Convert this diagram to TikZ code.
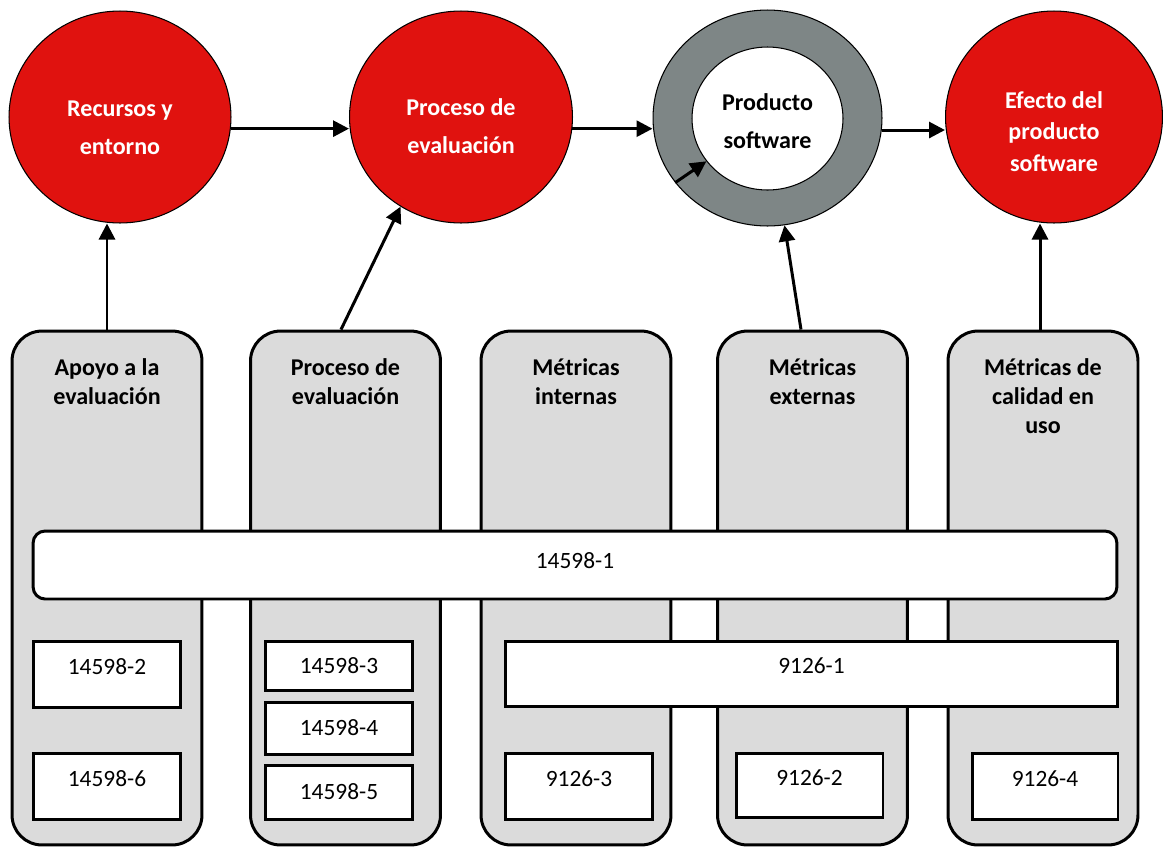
\documentclass[tikz,border=0pt]{standalone}
\usepackage{fontspec}
\setmainfont{Carlito}
\usetikzlibrary{arrows.meta, positioning, shapes.geometric}

\definecolor{rojo}{RGB}{224,18,15}
\definecolor{anillo}{RGB}{126,134,134}
\definecolor{gris}{RGB}{219,219,219}

\begin{document}
\begin{tikzpicture}[x=0.02cm, y=-0.02cm, >={Triangle[length=0.32cm, width=0.32cm]}]
				\tikzstyle{redc} = [ellipse, draw=black, line width=0.6pt, fill=rojo, inner sep=0pt, minimum height=4.24cm]
				\tikzstyle{ctext} = [align=center, inner sep=0pt, text=white, font=\bfseries\fontsize{13.7}{21.5}\selectfont]
				\tikzstyle{col} = [draw=black, line width=1.7pt, fill=gris, rounded corners=0.6cm, inner sep=0pt, minimum width=3.8cm, minimum height=10.28cm]
				\tikzstyle{head} = [align=center, inner sep=0pt, font=\bfseries\fontsize{13.7}{16.5}\selectfont]
				\tikzstyle{numbox} = [draw=black, line width=1.7pt, fill=white, inner sep=0pt, font=\fontsize{13.3}{15}\selectfont]
				\tikzstyle{upper} = [text height=0.3cm, text depth=0.3cm]
				\tikzstyle{link} = [->, line width=1.7pt]
				
				\useasboundingbox (0,0) rectangle (1163,846);
				
				% columns
				\node[col]	at (107, 588)		(c1)	{};
				\node[col]	at (345.5, 588)		(c2)	{};
				\node[col]	at (576, 588)		(c3)	{};
				\node[col]	at (812.5, 588)		(c4)	{};
				\node[col]	at (1043, 588)		(c5)	{};
				
				\node[head, below=0.58cm of c1.north]	(h1)	{Apoyo a la\\evaluación};
				\node[head, below=0.58cm of c2.north]	(h2)	{Proceso de\\evaluación};
				\node[head, below=0.58cm of c3.north]	(h3)	{Métricas\\internas};
				\node[head, below=0.58cm of c4.north]	(h4)	{Métricas\\externas};
				\node[head, below=0.58cm of c5.north]	(h5)	{Métricas de\\calidad en\\uso};
				
				% standards
				\node[numbox, rounded corners=0.24cm, minimum width=21.68cm, minimum height=1.36cm, text height=0.3cm, text depth=0.16cm]	at (575, 565)	(b1)	{14598-1};
				\node[numbox, upper, minimum width=2.96cm, minimum height=1.32cm]	at (107, 674)		(b2)	{14598-2};
				\node[numbox, upper, minimum width=2.96cm, minimum height=1.32cm]	at (107, 786)		(b6)	{14598-6};
				\node[numbox, minimum width=2.96cm, minimum height=0.98cm]	at (339, 665.5)		(b3)	{14598-3};
				\node[numbox, minimum width=2.96cm, minimum height=1.04cm]	at (339, 728)		(b4)	{14598-4};
				\node[numbox, minimum width=2.96cm, minimum height=1.08cm]	at (339, 792)		(b5)	{14598-5};
				\node[numbox, upper, minimum width=12.26cm, minimum height=1.3cm]	at (811.5, 673.5)	(m1)	{9126-1};
				\node[numbox, upper, minimum width=2.96cm, minimum height=1.32cm]	at (579, 786)		(m3)	{9126-3};
				\node[numbox, upper, minimum width=2.94cm, minimum height=1.28cm]	at (809.5, 785)		(m2)	{9126-2};
				\node[numbox, upper, minimum width=2.92cm, minimum height=1.32cm]	at (1045, 786)		(m4)	{9126-4};
				
				% circles
				\node[redc, minimum width=4.44cm]	at (120, 117)		(rec)	{};
				\node[redc, minimum width=4.46cm]	at (461, 117)		(pro)	{};
				\node[ellipse, draw=black, line width=0.6pt, fill=anillo, inner sep=0pt, minimum width=4.58cm, minimum height=4.32cm]	at (767.5, 118)	(prod)	{};
				\node[ellipse, draw=black, line width=0.6pt, fill=white, inner sep=0pt, minimum width=3.02cm, minimum height=2.86cm]	at (767.5, 118.5)	(prodin)	{};
				\node[redc, minimum width=4.34cm]	at (1054, 117)		(efe)	{};
				
				\node[ctext]	at (120, 127.5)		(trec)	{Recursos y\\entorno};
				\node[ctext]	at (461, 126.5)		(tpro)	{Proceso de\\evaluación};
				\node[ctext, text=black]	at (767.5, 121)	(tprod)	{Producto\\software};
				\node[ctext, font=\bfseries\fontsize{13.7}{17.9}\selectfont]	at (1054, 131.5)	(tefe)	{Efecto del\\producto\\software};
				
				\draw[link] (rec.-6) -- (rec.-6 -| pro.west);
				\draw[link] (pro.-6) -- (pro.-6 -| prod.west);
				\draw[link] (prod.-6) -- (prod.-6 -| efe.west);
				\draw[link] (prod.215) -- (prodin.215);
				
				\draw[link] (c1.north) -- (c1.north |- rec.south);
				\draw[link] ([xshift=-0.09cm]c2.north) -- (pro.236);
				\draw[link] ([xshift=-0.23cm]c4.north) -- (prod.279);
				\draw[link] ([xshift=-0.06cm]c5.north) coordinate (p5) -- (p5 |- efe.south);
\end{tikzpicture}
\end{document}
